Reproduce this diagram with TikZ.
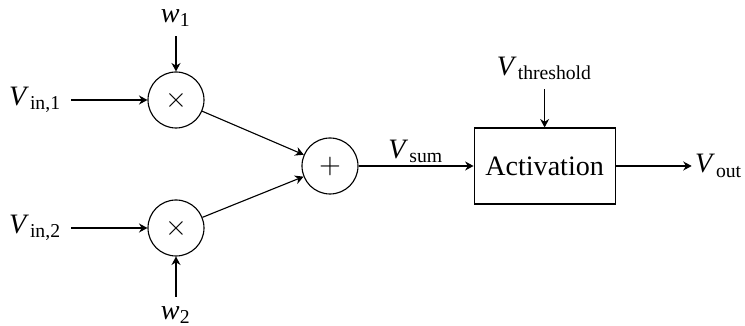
\documentclass[tikz,border=0pt]{standalone}
\usepackage{fontspec}
\setmainfont{Liberation Serif}
\usepackage{tikz}
\usetikzlibrary{arrows.meta,positioning}

\begin{document}
\begin{tikzpicture}[
    opnode/.style={draw,circle,minimum size=0.7cm,inner sep=0pt},
    actbox/.style={draw,minimum width=1.7625cm,minimum height=0.95cm},
    flow/.style={-{Stealth[length=3pt,width=3.2pt]}}]
  \useasboundingbox (0,0) rectangle (9.3125,4.075);
  % multipliers and adder
  \node[opnode] (mul1) at (2.2,2.825) {$\times$};
  \node[opnode] (mul2) at (2.2,1.225) {$\times$};
  \node[opnode] (sum) at (4.125,2.0) {$+$};
  \node[actbox,right=1.4375cm of sum] (act) {Activation};
  % signals
  \node[left=0.95cm of mul1] (in1) {\textit{V}\kern0.4pt\textsubscript{in,1}};
  \node[left=0.95cm of mul2] (in2) {\textit{V}\kern0.4pt\textsubscript{in,2}};
  \node[above=0.44cm of mul1] (w1) {\textit{w}\textsubscript{1}};
  \node[below=0.5cm of mul2] (w2) {\textit{w}\textsubscript{2}};
  \node[above=0.475cm of act] (thr) {\textit{V}\kern0.4pt\textsubscript{threshold}};
  \node[right=0.95cm of act,inner sep=1pt] (out) {\textit{V}\kern0.4pt\textsubscript{out}};
  \draw[flow] (in1) -- (mul1);
  \draw[flow] (in2) -- (mul2);
  \draw[flow] (w1) -- (mul1);
  \draw[flow] (w2) -- (mul2);
  \draw[flow] (mul1) -- (sum);
  \draw[flow] (mul2) -- (sum);
  \draw[flow] (sum) -- node[above,inner sep=1pt] {\textit{V}\kern0.4pt\textsubscript{sum}} (act);
  \draw[flow] (thr) -- (act);
  \draw[flow] (act) -- (out);
\end{tikzpicture}
\end{document}
